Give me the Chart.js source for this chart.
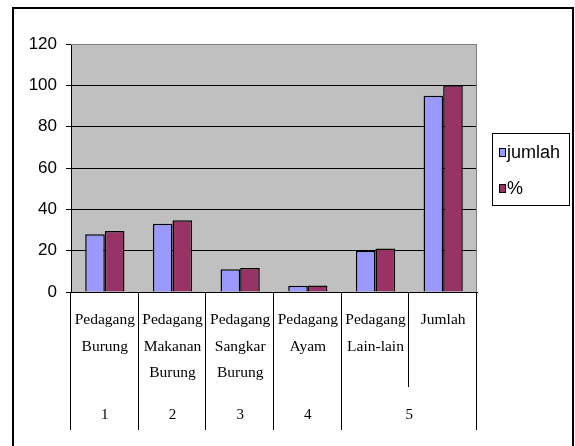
<!DOCTYPE html>
<html>
<head>
    <meta charset="UTF-8">
    <title>Pedagang</title>
    <script src="https://cdn.jsdelivr.net/npm/chart.js@4/dist/chart.umd.min.js"></script>
    <style>
        body { margin: 0; background: #fff; }
        #wrap { width: 575px; height: 446px; }
    </style>
</head>
<body>
    <div id="wrap"><canvas id="chart" width="575" height="446"></canvas></div>

    <script>
        // data
        const categories = [
            ['Pedagang', 'Burung'],
            ['Pedagang', 'Makanan', 'Burung'],
            ['Pedagang', 'Sangkar', 'Burung'],
            ['Pedagang', 'Ayam'],
            ['Pedagang', 'Lain-lain'],
            ['Jumlah']
        ];
        const groupLabels = ['1', '2', '3', '4', '5'];
        const groupSpans = [1, 1, 1, 1, 2];
        const jumlah = [28, 33, 11, 3, 20, 95];
        const persen = [29.47, 34.74, 11.58, 3.16, 21.05, 100];
        const yTicks = [0, 20, 40, 60, 80, 100, 120];

        const serif = '"Liberation Serif", "Times New Roman", serif';
        const sans = '"Liberation Sans", Arial, sans-serif';

        // background, frame, multi-level axis and legend
        const excelLook = {
            id: 'excelLook',
            beforeDraw(chart) {
                const ctx = chart.ctx, a = chart.chartArea;
                ctx.save();
                ctx.fillStyle = '#c0c0c0';
                ctx.fillRect(a.left, a.top, a.right - a.left, a.bottom - a.top);
                ctx.restore();
            },
            afterDraw(chart) {
                const ctx = chart.ctx, a = chart.chartArea;
                const x = chart.scales.x;
                ctx.save();

                // plot border (top/right)
                ctx.strokeStyle = '#808080';
                ctx.lineWidth = 1;
                ctx.beginPath();
                ctx.moveTo(a.left, a.top + 0.5);
                ctx.lineTo(a.right - 0.5, a.top + 0.5);
                ctx.lineTo(a.right - 0.5, a.bottom);
                ctx.stroke();

                // category separators + group row
                const half = (x.getPixelForValue(1) - x.getPixelForValue(0)) / 2;
                ctx.strokeStyle = '#000';
                let idx = 0;
                const bounds = [Math.round(x.getPixelForValue(0) - half)];
                groupSpans.forEach((span, g) => {
                    const first = idx, last = idx + span - 1;
                    const left = x.getPixelForValue(first) - half;
                    const right = x.getPixelForValue(last) + half;
                    for (let i = first; i < last; i++) {
                        const px = Math.round(x.getPixelForValue(i) + half) - 0.5;
                        ctx.beginPath();
                        ctx.moveTo(px, a.bottom);
                        ctx.lineTo(px, 387);
                        ctx.stroke();
                    }
                    bounds.push(Math.round(right));
                    ctx.fillStyle = '#000';
                    ctx.font = '15px ' + serif;
                    ctx.textAlign = 'center';
                    ctx.textBaseline = 'middle';
                    ctx.fillText(groupLabels[g], (left + right) / 2, 415);
                    idx += span;
                });
                bounds.forEach(b => {
                    ctx.beginPath();
                    ctx.moveTo(b - 0.5, a.bottom);
                    ctx.lineTo(b - 0.5, 430);
                    ctx.stroke();
                });

                // legend
                ctx.fillStyle = '#fff';
                ctx.fillRect(492, 133, 77, 72);
                ctx.strokeStyle = '#000';
                ctx.strokeRect(492.5, 133.5, 77, 72);
                const ds = chart.data.datasets;
                const ys = [152, 188];
                ds.forEach((d, i) => {
                    ctx.fillStyle = d.backgroundColor;
                    ctx.fillRect(499, ys[i] - 4, 7, 9);
                    ctx.strokeStyle = '#000';
                    ctx.strokeRect(499.5, ys[i] - 3.5, 6, 8);
                    ctx.fillStyle = '#000';
                    ctx.font = '18px ' + sans;
                    ctx.textAlign = 'left';
                    ctx.textBaseline = 'middle';
                    ctx.fillText(d.label, 507, ys[i] + 1);
                });

                // outer frame
                ctx.strokeStyle = '#000';
                ctx.lineWidth = 2;
                ctx.strokeRect(13, 8, 560, 460);
                ctx.restore();
            }
        };

        new Chart(document.getElementById('chart'), {
            type: 'bar',
            data: {
                labels: categories,
                datasets: [{
                    label: 'jumlah',
                    data: jumlah,
                    backgroundColor: '#9999ff',
                    borderColor: '#000',
                    borderWidth: 1.5
                }, {
                    label: '%',
                    data: persen,
                    backgroundColor: '#993366',
                    borderColor: '#000',
                    borderWidth: 1.5
                }]
            },
            options: {
                responsive: false,
                animation: false,
                layout: { padding: { left: 0, top: 44, right: 98, bottom: 0 } },
                datasets: { bar: { categoryPercentage: 0.58, barPercentage: 1 } },
                plugins: {
                    legend: { display: false },
                    tooltip: { enabled: false }
                },
                scales: {
                    x: {
                        offset: true,
                        grid: { display: false, drawTicks: false },
                        border: { display: true, color: '#000', width: 1 },
                        ticks: {
                            color: '#000',
                            padding: 15,
                            maxRotation: 0,
                            autoSkip: false,
                            font: { family: serif, size: 15.5, lineHeight: 1.71 }
                        },
                        afterFit(s) { s.height = 154; }
                    },
                    y: {
                        min: 0,
                        max: 120,
                        afterBuildTicks(s) { s.ticks = yTicks.map(v => ({ value: v })); },
                        grid: {
                            color: c => (c.tick && c.tick.value === 120 ? '#808080' : '#000'),
                            tickColor: '#000',
                            tickLength: 5,
                            drawTicks: true
                        },
                        border: { display: true, color: '#000', width: 1 },
                        ticks: {
                            color: '#000',
                            padding: 9,
                            font: { family: sans, size: 17 }
                        },
                        afterFit(s) { s.width = 71; }
                    }
                }
            },
            plugins: [excelLook]
        });
    </script>
</body>
</html>
